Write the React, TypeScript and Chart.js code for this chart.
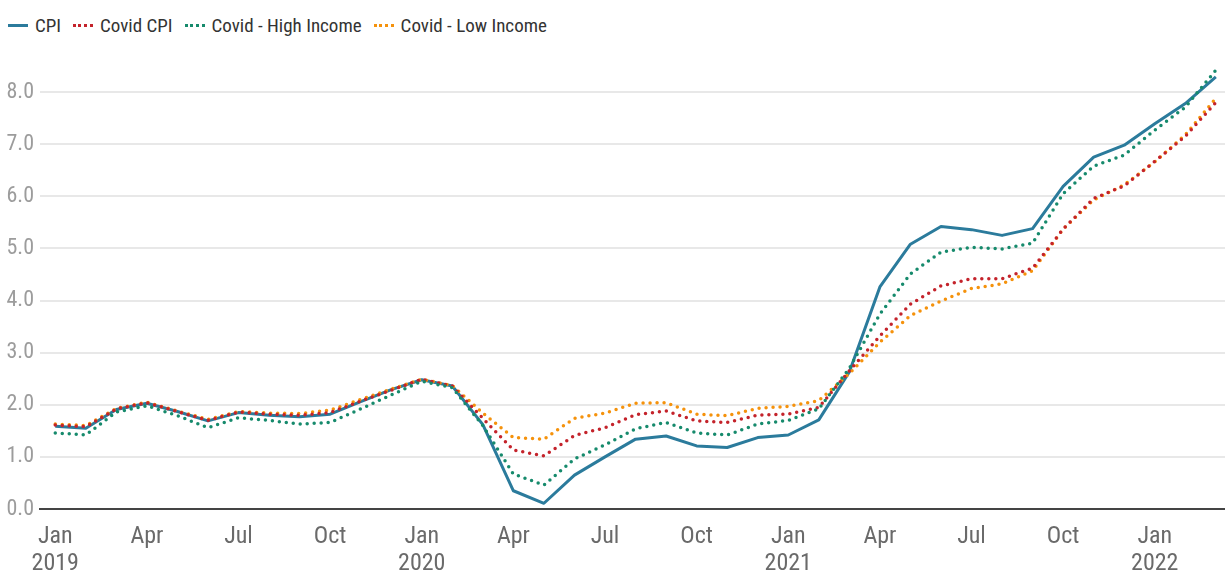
import React, { useEffect, useRef } from "react";
import { Chart, registerables } from "chart.js";

Chart.register(...registerables);

const monthLabels = [
  "Jan 2019", "Feb 2019", "Mar 2019", "Apr 2019", "May 2019", "Jun 2019",
  "Jul 2019", "Aug 2019", "Sep 2019", "Oct 2019", "Nov 2019", "Dec 2019",
  "Jan 2020", "Feb 2020", "Mar 2020", "Apr 2020", "May 2020", "Jun 2020",
  "Jul 2020", "Aug 2020", "Sep 2020", "Oct 2020", "Nov 2020", "Dec 2020",
  "Jan 2021", "Feb 2021", "Mar 2021", "Apr 2021", "May 2021", "Jun 2021",
  "Jul 2021", "Aug 2021", "Sep 2021", "Oct 2021", "Nov 2021", "Dec 2021",
  "Jan 2022", "Feb 2022", "Mar 2022",
];

const cpi = [
  1.59, 1.55, 1.91, 2.03, 1.87, 1.69, 1.85, 1.80, 1.77, 1.82, 2.06, 2.29,
  2.48, 2.36, 1.62, 0.35, 0.11, 0.65, 1.00, 1.34, 1.40, 1.21, 1.18, 1.37,
  1.42, 1.71, 2.63, 4.26, 5.08, 5.42, 5.36, 5.25, 5.38, 6.19, 6.75, 6.98,
  7.39, 7.78, 8.29,
];

const covidCpi = [
  1.61, 1.58, 1.92, 2.04, 1.87, 1.70, 1.86, 1.82, 1.80, 1.85, 2.07, 2.28,
  2.49, 2.36, 1.74, 1.13, 1.02, 1.41, 1.56, 1.81, 1.88, 1.69, 1.66, 1.80,
  1.82, 1.95, 2.65, 3.32, 3.93, 4.28, 4.42, 4.42, 4.62, 5.37, 5.96, 6.20,
  6.67, 7.15, 7.80,
];

const covidHigh = [
  1.46, 1.42, 1.86, 1.98, 1.79, 1.56, 1.75, 1.70, 1.63, 1.66, 1.92, 2.19,
  2.45, 2.33, 1.60, 0.67, 0.46, 0.96, 1.23, 1.54, 1.66, 1.46, 1.42, 1.63,
  1.70, 1.92, 2.70, 3.74, 4.51, 4.93, 5.02, 4.99, 5.10, 6.05, 6.58, 6.79,
  7.27, 7.71, 8.42,
];

const covidLow = [
  1.63, 1.60, 1.93, 2.05, 1.88, 1.72, 1.87, 1.84, 1.83, 1.90, 2.10, 2.30,
  2.49, 2.37, 1.84, 1.37, 1.34, 1.74, 1.84, 2.03, 2.04, 1.82, 1.79, 1.93,
  1.97, 2.08, 2.60, 3.20, 3.71, 3.99, 4.23, 4.32, 4.57, 5.37, 5.93, 6.22,
  6.66, 7.18, 7.88,
];

const yTicks = [0, 1, 2, 3, 4, 5, 6, 7, 8];
const xTickIndices = [0, 3, 6, 9, 12, 15, 18, 21, 24, 27, 30, 33, 36];

const seriesNames = ["CPI", "Covid CPI", "Covid - High Income", "Covid - Low Income"];
const seriesColors = ["#2b7b9c", "#c4232b", "#168a6c", "#f5920c"];

const FONT = '"Roboto Condensed", "DejaVu Sans Condensed", Roboto, sans-serif';

export default function App() {
  const canvasRef = useRef<HTMLCanvasElement | null>(null);

  useEffect(() => {
    const canvas = canvasRef.current;
    if (!canvas) return;
    const toPoints = (arr: number[]) => arr.map((v, i) => ({ x: i, y: v }));
    const dotted = (color: string, order: number) => ({
      borderColor: color,
      backgroundColor: color,
      borderWidth: 3.5,
      borderDash: [0, 7],
      borderCapStyle: "round" as const,
      pointRadius: 0,
      tension: 0,
      order,
    });
    const chart = new Chart(canvas, {
      type: "line",
      data: {
        labels: monthLabels,
        datasets: [
          {
            label: seriesNames[0],
            data: toPoints(cpi),
            borderColor: seriesColors[0],
            backgroundColor: seriesColors[0],
            borderWidth: 3,
            pointRadius: 0,
            tension: 0,
            order: 4,
          },
          { label: seriesNames[1], data: toPoints(covidCpi), ...dotted(seriesColors[1], 2) },
          { label: seriesNames[2], data: toPoints(covidHigh), ...dotted(seriesColors[2], 1) },
          { label: seriesNames[3], data: toPoints(covidLow), ...dotted(seriesColors[3], 3) },
        ],
      },
      options: {
        animation: false,
        responsive: true,
        maintainAspectRatio: false,
        layout: { padding: { top: 66, right: 0, left: 0, bottom: 0 } },
        plugins: { legend: { display: false }, tooltip: { enabled: false } },
        elements: { line: { borderJoinStyle: "round" } },
        scales: {
          x: {
            type: "linear",
            min: -0.5,
            max: 38.3,
            afterBuildTicks: (scale: any) => {
              scale.ticks = xTickIndices.map((v) => ({ value: v }));
            },
            afterFit: (scale: any) => {
              scale.height = 65;
            },
            grid: { display: false, drawTicks: false },
            border: { display: true, color: "#444444", width: 2 },
            ticks: {
              padding: 14,
              autoSkip: false,
              maxRotation: 0,
              color: "#6a6a6a",
              font: { family: FONT, size: 24, lineHeight: 1.15 },
              callback: (value: any) => {
                const label = monthLabels[Number(value)] || "";
                const [m, y] = label.split(" ");
                return m === "Jan" ? [m, y] : m;
              },
            },
          },
          y: {
            min: 0,
            max: 8.5,
            afterBuildTicks: (scale: any) => {
              scale.ticks = yTicks.map((v) => ({ value: v }));
            },
            afterFit: (scale: any) => {
              scale.width = 40;
            },
            grid: { color: "#e8e8e8", lineWidth: 2, drawTicks: false },
            border: { display: false },
            ticks: {
              padding: 6,
              color: "#9c9c9c",
              font: { family: FONT, size: 22 },
              callback: (value: any) => Number(value).toFixed(1),
            },
          },
        },
      },
    });
    return () => chart.destroy();
  }, []);

  const legendItem = (name: string, color: string, solid: boolean) => (
    <div key={name} style={{ display: "flex", alignItems: "center", marginRight: 12 }}>
      <span
        style={{
          display: "inline-block",
          width: 20,
          height: 0,
          borderTop: solid ? `3px solid ${color}` : `3px dotted ${color}`,
          marginRight: 7,
        }}
      />
      <span style={{ fontFamily: FONT, fontSize: 19, color: "#333333" }}>{name}</span>
    </div>
  );

  return (
    <div style={{ position: "fixed", left: 0, top: 0, width: 1225, height: 574, background: "#ffffff" }}>
      <div
        style={{
          position: "absolute",
          left: 8,
          top: 12,
          display: "flex",
          alignItems: "center",
          height: 26,
        }}
      >
        {seriesNames.map((n, i) => legendItem(n, seriesColors[i], i === 0))}
      </div>
      <div style={{ position: "absolute", left: 0, top: 0, width: 1225, height: 574 }}>
        <canvas ref={canvasRef} />
      </div>
    </div>
  );
}
